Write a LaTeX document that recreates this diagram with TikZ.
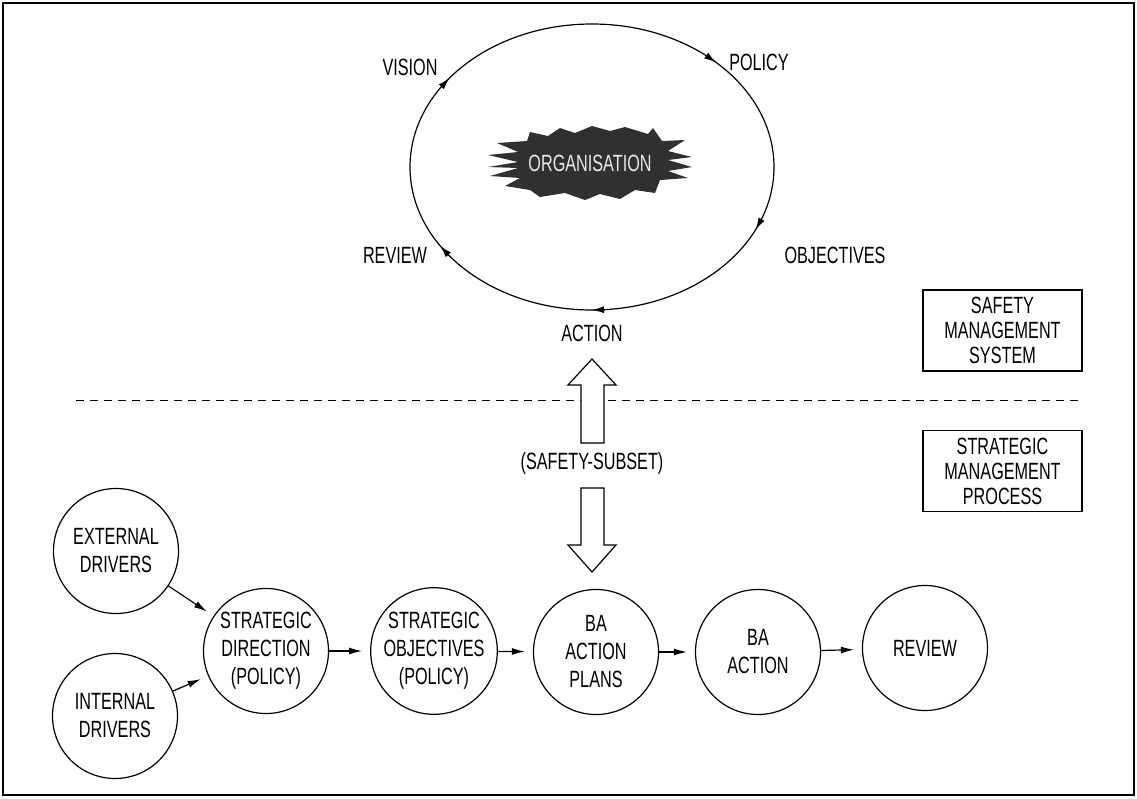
\documentclass[tikz,border=0pt]{standalone}
\usepackage{fontspec}
\setmainfont{Liberation Sans}[FakeStretch=0.69]
\usetikzlibrary{arrows.meta,calc}
\definecolor{orgfill}{HTML}{303030}
\definecolor{orgtext}{HTML}{E8E8E8}
\begin{document}
\begin{tikzpicture}[x=1pt,y=-1pt,
  every node/.style={font=\fontsize{23.5}{28}\selectfont, inner sep=0pt},
  proc/.style={circle, draw, line width=1.2pt, minimum size=125pt, inner sep=0pt, align=center},
  tagbox/.style={draw, line width=1.1pt, minimum width=159pt, minimum height=81pt, align=center, font=\fontsize{23.5}{25}\selectfont},
  flow/.style={line width=1.2pt, -{Latex[length=13pt,width=7pt]}, shorten >=8pt},
  cyc/.style={line width=1.2pt},
  cyctip/.style={line width=1.2pt, -{Latex[length=12pt,width=7pt]}},
  blockarr/.style={draw, line width=1.2pt, fill=white, line join=miter},
  divider/.style={line width=1pt, dash pattern=on 8pt off 6pt}
]
\useasboundingbox (0,0) rectangle (1137,798);
% frame
\draw[line width=1.5pt] (3,3) rectangle (1134,795);

% top cycle
\coordinate (cc) at (592,167);
\draw[cyc] (cc) ellipse [x radius=182pt, y radius=143pt];
\foreach \t in {218.5,313,26,90,146.5}
  \draw[cyctip] ($(cc)+({182*cos(\t-4)},{143*sin(\t-4)})$) -- ($(cc)+({182*cos(\t)},{143*sin(\t)})$);

% organisation burst
\fill[orgfill] (488,155) -- (518,152) -- (497,143) -- (527,141) -- (530,132) -- (548,136) -- (560,128)
  -- (575,133) -- (592,126) -- (610,131) -- (625,127) -- (648,134) -- (653,128) -- (662,141)
  -- (685,140) -- (668,151) -- (692,157) -- (668,160) -- (692,167) -- (668,171) -- (688,178)
  -- (660,180) -- (655,193) -- (635,190) -- (620,199) -- (600,194) -- (585,200) -- (565,193)
  -- (540,197) -- (530,190) -- (505,186) -- (520,178) -- (490,176) -- (518,168) -- (488,167)
  -- (518,162) -- cycle;
\node[text=orgtext] (org) at (590,163) {ORGANISATION};

% cycle labels
\node (vision) at (410,67) {VISION};
\node (policy) at (759,62) {POLICY};
\node (objectives) at (835,255) {OBJECTIVES};
\node (action) at (592,333) {ACTION};
\node (review) at (395,255) {REVIEW};

% side boxes
\node[tagbox] (sms) at (1002.5,330.5) {SAFETY\\MANAGEMENT\\SYSTEM};
\node[tagbox] (smp) at (1002.5,471) {STRATEGIC\\MANAGEMENT\\PROCESS};

% divider
\draw[divider] (76,400) -- (1079,400);

% block arrows
\draw[blockarr] (592,359) -- (616,385) -- (604,385) -- (604,443) -- (581,443) -- (581,385) -- (568,385) -- cycle;
\node (subset) at (592,463) {(SAFETY-SUBSET)};
\draw[blockarr] (581,488) -- (604,488) -- (604,545) -- (616,545) -- (592,572) -- (568,545) -- (581,545) -- cycle;

% process circles
\node[proc] (ext) at (116,551) {EXTERNAL\\DRIVERS};
\node[proc] (int) at (115,716) {INTERNAL\\DRIVERS};
\node[proc] (sd) at (266,651) {STRATEGIC\\DIRECTION\\(POLICY)};
\node[proc] (so) at (434,651) {STRATEGIC\\OBJECTIVES\\(POLICY)};
\node[proc] (bap) at (596,652) {BA\\ACTION\\PLANS};
\node[proc] (baa) at (758,652) {BA\\ACTION};
\node[proc] (rev) at (925,648) {REVIEW};

\draw[flow] (ext) -- (sd);
\draw[flow] (int) -- (sd);
\draw[flow] (sd) -- (so);
\draw[flow] (so) -- (bap);
\draw[flow] (bap) -- (baa);
\draw[flow] (baa) -- (rev);
\end{tikzpicture}
\end{document}
